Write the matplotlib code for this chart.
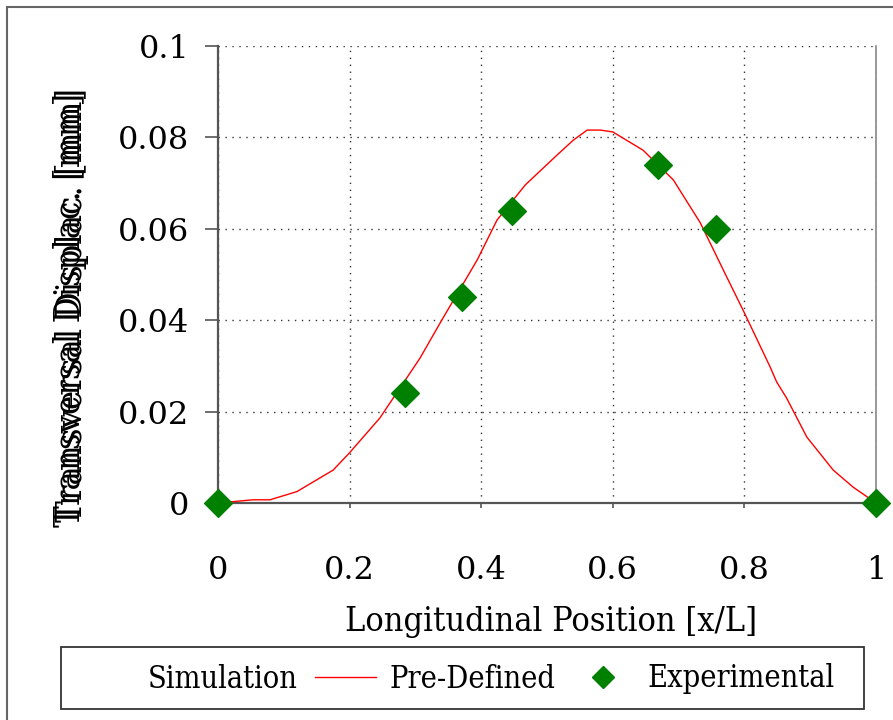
import matplotlib.pyplot as plt
from matplotlib.lines import Line2D
from matplotlib.patches import Rectangle

# simulation curve (pre-defined)
sim_x = [0.0, 0.053, 0.079, 0.12, 0.175, 0.2, 0.246, 0.307, 0.34, 0.394, 0.424,
         0.467, 0.515, 0.54, 0.561, 0.581, 0.6, 0.646, 0.692, 0.733, 0.773,
         0.798, 0.839, 0.849, 0.864, 0.895, 0.935, 0.965, 1.0]
sim_y = [0.0, 0.0007, 0.0007, 0.0025, 0.0072, 0.011, 0.0186, 0.0317, 0.040, 0.0532,
         0.0619, 0.0696, 0.0761, 0.0794, 0.0816, 0.0816, 0.0812, 0.0772, 0.0707,
         0.0613, 0.0495, 0.0422, 0.0298, 0.0265, 0.023, 0.0144, 0.0072, 0.0035, 0.0]

# experimental points
exp_x = [0.0, 0.284, 0.371, 0.447, 0.669, 0.757, 1.0]
exp_y = [0.0, 0.024, 0.045, 0.064, 0.074, 0.060, 0.0]

x_ticks = [0, 0.2, 0.4, 0.6, 0.8, 1]
x_labels = ['0', '0.2', '0.4', '0.6', '0.8', '1']
y_ticks = [0, 0.02, 0.04, 0.06, 0.08, 0.1]
y_labels = ['0', '0.02', '0.04', '0.06', '0.08', '0.1']

plt.rcParams['font.family'] = 'DejaVu Serif'
W, H = 893, 720
fig = plt.figure(figsize=(W / 100, H / 100), dpi=100)

# outer frame, cut at the right and bottom edges
fig.patches.append(Rectangle((7 / W, -0.1), 1.2, 1 - 7 / H + 0.1, transform=fig.transFigure,
                             fill=False, edgecolor='#666666', linewidth=1.5))
# legend box
fig.patches.append(Rectangle((61 / W, 1 - 709 / H), (864 - 61) / W, 62 / H,
                             transform=fig.transFigure, fill=False,
                             edgecolor='#333333', linewidth=1.3))

ax = fig.add_axes([218 / W, 1 - 503 / H, (876 - 218) / W, (503 - 46) / H])

ax.plot(sim_x, sim_y, color='red', linewidth=1.0, zorder=3)
ax.scatter(exp_x, exp_y, marker='D', s=200, color='#008000', zorder=4, clip_on=False)

ax.set_xlim(0, 1)
ax.set_ylim(0, 0.1)
ax.set_xticks(x_ticks)
ax.set_xticklabels(x_labels, fontsize=23)
ax.set_yticks(y_ticks)
ax.set_yticklabels(y_labels, fontsize=23)
ax.tick_params(axis='y', direction='out', length=9.5, width=1.2, color='#555555', pad=11)
ax.tick_params(axis='x', direction='out', length=3.6, width=1.2, color='#555555', pad=34)
ax.grid(True, color='#333333', linestyle=(0, (1, 4)), linewidth=1.0)

for side in ['left', 'bottom']:
    ax.spines[side].set_color('#555555')
    ax.spines[side].set_linewidth(1.6)
ax.spines['right'].set_color('#888888')
ax.spines['right'].set_linewidth(1.2)
ax.spines['top'].set_visible(False)

fig.text(551 / W, 1 - 622 / H, 'Longitudinal Position [x/L]', fontsize=24.5,
         stretch='condensed', ha='center', va='center')

# the y label appears printed twice with a small offset
fig.text(70 / W, 1 - 310 / H, 'Transversal Displac. [mm]', rotation=90, fontsize=26,
         stretch='condensed', ha='center', va='center')
fig.text(72 / W, 1 - 305 / H, 'Transversal Displac. [mm]', rotation=90, fontsize=26,
         stretch='condensed', ha='center', va='center')

handles = [Line2D([], [], linestyle='none'),
           Line2D([], [], color='red', linewidth=1.0),
           Line2D([], [], linestyle='none', marker='D', markersize=11, color='#008000')]
leg = fig.legend(handles, ['Simulation', 'Pre-Defined', 'Experimental'], ncol=3,
                 loc='center left', bbox_to_anchor=(61 / W, 1 - 679 / H),
                 prop={'size': 22, 'stretch': 'condensed', 'family': 'DejaVu Serif'},
                 frameon=False, handlelength=2.0, handletextpad=0.45,
                 columnspacing=0.55, borderpad=0.4, borderaxespad=0)

fig.savefig('out.png', dpi=100)
